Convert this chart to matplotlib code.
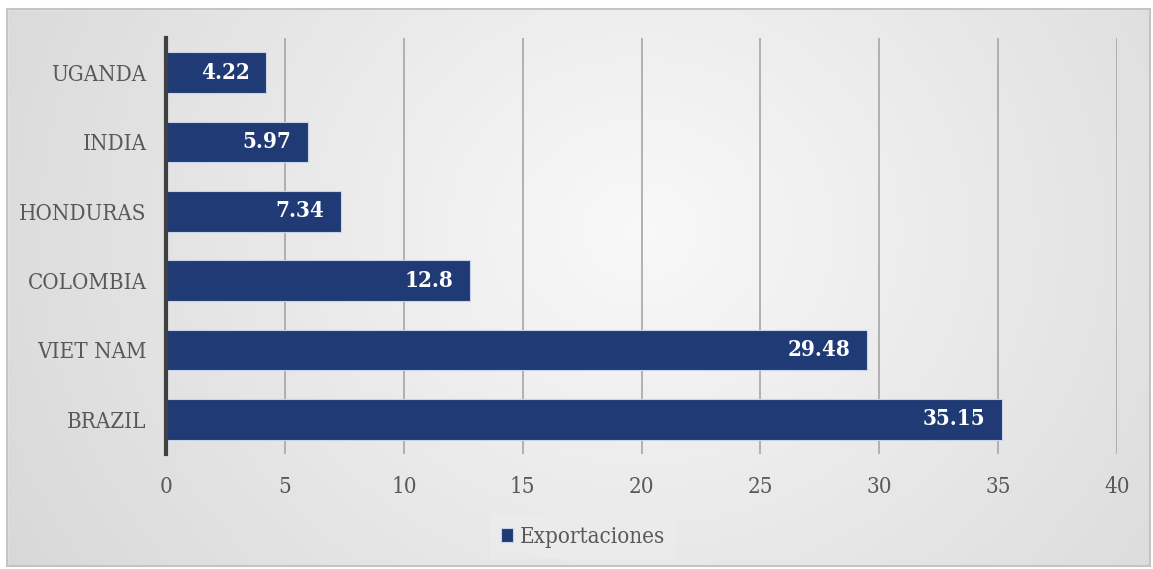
import numpy as np
import matplotlib
matplotlib.use("Agg")
import matplotlib.pyplot as plt
from matplotlib.patches import Rectangle

PAISES = ["BRAZIL", "VIET NAM", "COLOMBIA", "HONDURAS", "INDIA", "UGANDA"]
EXPORTACIONES = [35.15, 29.48, 12.8, 7.34, 5.97, 4.22]
ETIQUETAS = ["35.15", "29.48", "12.8", "7.34", "5.97", "4.22"]
XTICKS = [0, 5, 10, 15, 20, 25, 30, 35, 40]
SERIE = "Exportaciones"

COLOR_BARRA = "#1f3a75"
COLOR_TEXTO = "#595959"
FUENTE = ["DejaVu Serif"]
ANCHO = "condensed"

W, H = 1153, 569
fig = plt.figure(figsize=(W / 100, H / 100), dpi=100)
fig.patch.set_facecolor("white")

# fondo con degradado radial
bg = fig.add_axes([0, 0, 1, 1], zorder=-10)
yy, xx = np.mgrid[0:H, 0:W]
r = np.sqrt(((xx - 640) / W) ** 2 + ((yy - 230) / H * 0.55) ** 2)
val = 0.975 - 0.2 * r
img = np.dstack([val, val, val])
bg.imshow(img, extent=[0, W, H, 0], aspect="auto")
bg.set_xlim(0, W)
bg.set_ylim(H, 0)
bg.axis("off")
# borde exterior
bg.add_patch(Rectangle((0, 0), 7, H, color="white", zorder=2))
bg.add_patch(Rectangle((0, 0), W, 9, color="white", zorder=2))
bg.add_patch(Rectangle((1150, 0), 3, H, color="white", zorder=2))
bg.add_patch(Rectangle((0, 566), W, 3, color="white", zorder=2))
bg.add_patch(Rectangle((7, 9), 1143, 557, fill=False, edgecolor="#c4c4c4", lw=1.5, zorder=3))

ax = fig.add_axes([166 / W, 1 - 454 / H, (1117 - 166) / W, (454 - 38) / H])
ax.set_facecolor("none")
y = np.arange(len(PAISES))
bars = ax.barh(y, EXPORTACIONES, height=0.59, color=COLOR_BARRA,
               edgecolor="#c9d3e8", linewidth=0.8, zorder=2, label=SERIE)

for b, txt in zip(bars, ETIQUETAS):
    ax.annotate(txt, (b.get_width(), b.get_y() + b.get_height() / 2),
                xytext=(-12, 0), textcoords="offset points",
                ha="right", va="center", color="white", fontsize=16,
                fontweight="bold", fontstretch=ANCHO, family=FUENTE, zorder=3)

ax.set_xlim(0, 40)
ax.set_ylim(-0.5, len(PAISES) - 0.5)
ax.set_xticks(XTICKS)
ax.set_yticks(y)
ax.set_yticklabels(PAISES)
ax.xaxis.grid(True, color="#a6a6a6", linewidth=1.2, zorder=1)
ax.set_axisbelow(True)
for s in ["top", "right", "bottom"]:
    ax.spines[s].set_visible(False)
ax.spines["left"].set_color("#404040")
ax.spines["left"].set_linewidth(3)
ax.spines["left"].set_zorder(4)
ax.tick_params(axis="both", length=0, labelcolor=COLOR_TEXTO, labelsize=16)
ax.tick_params(axis="x", pad=16)
ax.tick_params(axis="y", pad=14)
for lbl in ax.get_xticklabels() + ax.get_yticklabels():
    lbl.set_family(FUENTE)
    lbl.set_fontstretch(ANCHO)

leg = fig.legend(loc="center", bbox_to_anchor=(583 / W, 1 - 537 / H),
                 prop={"family": FUENTE, "size": 16, "stretch": ANCHO},
                 frameon=True, fancybox=False, handlelength=0.55,
                 handleheight=0.55, handletextpad=0.3, borderpad=0.5)
leg.get_frame().set_facecolor("#ececec")
leg.get_frame().set_edgecolor("none")
for t in leg.get_texts():
    t.set_color(COLOR_TEXTO)

fig.savefig("out.png", dpi=100)
